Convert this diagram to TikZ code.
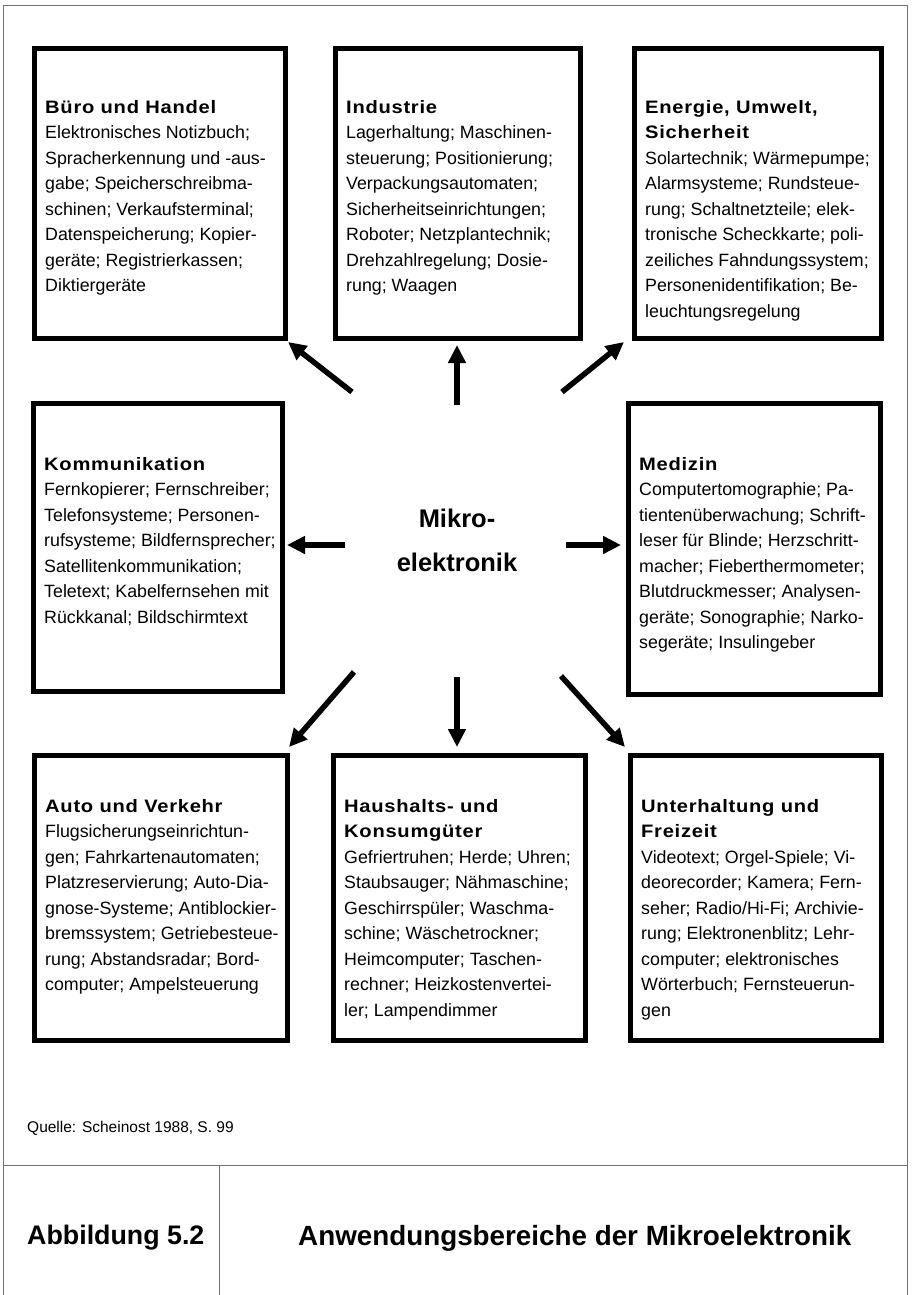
\documentclass[tikz,border=0pt]{standalone}
\usepackage{fontspec}
\setmainfont{Liberation Sans}
\newfontfamily\headfont[FakeStretch=1.12,LetterSpace=4]{Liberation Sans}
\usetikzlibrary{arrows.meta,calc}
\newcommand{\hdx}[1]{{\headfont\bfseries\fontsize{18}{25.5}\selectfont #1}}
\begin{document}
\begin{tikzpicture}[x=1pt,y=-1pt,
  frame/.style={draw=black!55, line width=0.8pt},
  box/.style={draw=black, line width=5pt, inner sep=0pt, anchor=north west},
  txt/.style={anchor=north west, align=left, inner sep=0pt, font=\fontsize{17.8}{25.5}\selectfont},
  arr/.style={line width=5.5pt, -{Triangle[length=18pt,width=17pt]}}]
\useasboundingbox (0,0) rectangle (911,1295);
% frame
\coordinate (f1) at (3,5);
\coordinate (f2) at (907,5);
\coordinate (f3) at (907,1295);
\coordinate (f4) at (3,1295);
\coordinate (h1) at (3,1165);
\coordinate (h2) at (907,1165);
\coordinate (d1) at (219,1165);
\coordinate (d2) at (219,1295);
\draw[frame] (f4) -- (f1) -- (f2) -- (f3);
\draw[frame] (h1) -- (h2);
\draw[frame] (d1) -- (d2);
% boxes
\node[box, minimum width=251pt, minimum height=290pt] (b1) at (32,46) {};
\node[box, minimum width=245pt, minimum height=290pt] (b2) at (333,46) {};
\node[box, minimum width=247pt, minimum height=290pt] (b3) at (632,46) {};
\node[box, minimum width=249pt, minimum height=288pt] (b4) at (31,401) {};
\node[box, minimum width=252pt, minimum height=291pt] (b5) at (626,401) {};
\node[box, minimum width=253pt, minimum height=285pt] (b6) at (32,753) {};
\node[box, minimum width=252pt, minimum height=285pt] (b7) at (331,753) {};
\node[box, minimum width=251pt, minimum height=285pt] (b8) at (628,753) {};
% texts
\node[txt] (t1) at (45,100) {\hdx{Büro und Handel}\\Elektronisches Notizbuch;\\Spracherkennung und -aus-\\gabe; Speicherschreibma-\\schinen; Verkaufsterminal;\\Datenspeicherung; Kopier-\\geräte; Registrierkassen;\\Diktiergeräte};
\node[txt] (t2) at (346,100) {\hdx{Industrie}\\Lagerhaltung; Maschinen-\\steuerung; Positionierung;\\Verpackungsautomaten;\\Sicherheitseinrichtungen;\\Roboter; Netzplantechnik;\\Drehzahlregelung; Dosie-\\rung; Waagen};
\node[txt] (t3) at (645,100) {\hdx{Energie, Umwelt,}\\\hdx{Sicherheit}\\Solartechnik; Wärmepumpe;\\Alarmsysteme; Rundsteue-\\rung; Schaltnetzteile; elek-\\tronische Scheckkarte; poli-\\zeiliches Fahndungssystem;\\Personenidentifikation; Be-\\leuchtungsregelung};
\node[txt] (t4) at (44,457) {\hdx{Kommunikation}\\Fernkopierer; Fernschreiber;\\Telefonsysteme; Personen-\\rufsysteme; Bildfernsprecher;\\Satellitenkommunikation;\\Teletext; Kabelfernsehen mit\\Rückkanal; Bildschirmtext};
\node[txt] (t5) at (639,457) {\hdx{Medizin}\\Computertomographie; Pa-\\tientenüberwachung; Schrift-\\leser für Blinde; Herzschritt-\\macher; Fieberthermometer;\\Blutdruckmesser; Analysen-\\geräte; Sonographie; Narko-\\segeräte; Insulingeber};
\node[txt] (t6) at (45,799) {\hdx{Auto und Verkehr}\\Flugsicherungseinrichtun-\\gen; Fahrkartenautomaten;\\Platzreservierung; Auto-Dia-\\gnose-Systeme; Antiblockier-\\bremssystem; Getriebesteue-\\rung; Abstandsradar; Bord-\\computer; Ampelsteuerung};
\node[txt] (t7) at (344,799) {\hdx{Haushalts- und}\\\hdx{Konsumgüter}\\Gefriertruhen; Herde; Uhren;\\Staubsauger; Nähmaschine;\\Geschirrspüler; Waschma-\\schine; Wäschetrockner;\\Heimcomputer; Taschen-\\rechner; Heizkostenvertei-\\ler; Lampendimmer};
\node[txt] (t8) at (641,799) {\hdx{Unterhaltung und}\\\hdx{Freizeit}\\Videotext; Orgel-Spiele; Vi-\\deorecorder; Kamera; Fern-\\seher; Radio/Hi-Fi; Archivie-\\rung; Elektronenblitz; Lehr-\\computer; elektronisches\\Wörterbuch; Fernsteuerun-\\gen};
% center
\node[align=center, font=\bfseries\fontsize{25.5}{44}\selectfont] (m) at (457,540) {Mikro-\\elektronik};
% arrows
\coordinate (a1) at (352,392); \coordinate (e1) at (288,342);
\coordinate (a2) at (457,405); \coordinate (e2) at (457,345);
\coordinate (a3) at (562,392); \coordinate (e3) at (624,342);
\coordinate (a4) at (345,545); \coordinate (e4) at (287,545);
\coordinate (a5) at (566,545); \coordinate (e5) at (621,545);
\coordinate (a6) at (354,672); \coordinate (e6) at (289,747);
\coordinate (a7) at (457,677); \coordinate (e7) at (457,747);
\coordinate (a8) at (561,676); \coordinate (e8) at (625,747);
\draw[arr] (a1) -- (e1);
\draw[arr] (a2) -- (e2);
\draw[arr] (a3) -- (e3);
\draw[arr] (a4) -- (e4);
\draw[arr] (a5) -- (e5);
\draw[arr] (a6) -- (e6);
\draw[arr] (a7) -- (e7);
\draw[arr] (a8) -- (e8);
% bottom
\node[anchor=west, inner sep=0pt, font=\fontsize{15.5}{18}\selectfont] (q) at (27,1128) {Quelle: Scheinost 1988, S. 99};
\node[anchor=west, inner sep=0pt, font=\bfseries\fontsize{26.8}{30}\selectfont] (abb) at (27,1238) {Abbildung 5.2};
\node[anchor=west, inner sep=0pt, font=\bfseries\fontsize{27.8}{30}\selectfont] (ttl) at (298,1238) {Anwendungsbereiche der Mikroelektronik};
\end{tikzpicture}
\end{document}
